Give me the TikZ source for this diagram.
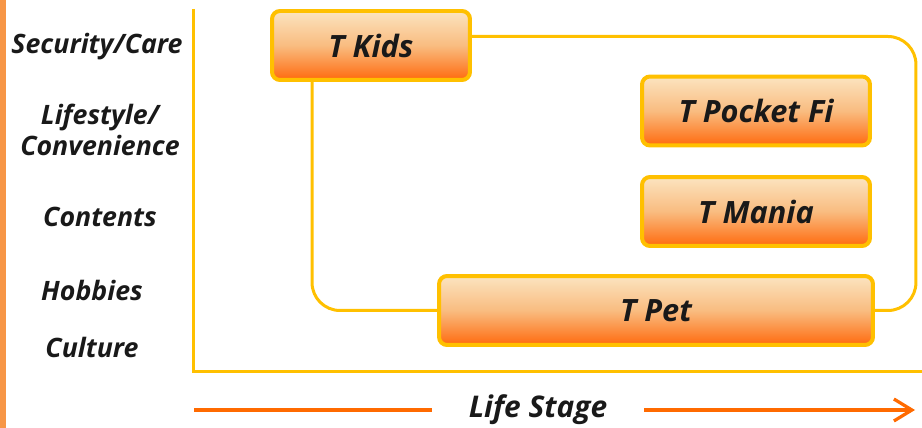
\documentclass[tikz,border=0pt]{standalone}
\usepackage{fontspec}
\setmainfont{Open Sans}
\usepackage{xcolor}
\usepackage{tikz}
\usetikzlibrary{arrows.meta, positioning}

\definecolor{axisyellow}{HTML}{FFC000}
\definecolor{stageorange}{HTML}{FF6A00}
\definecolor{barorange}{HTML}{F79646}
\definecolor{boxtop}{HTML}{FBE4C0}
\definecolor{boxmid}{HTML}{F9BC80}
\definecolor{boxbot}{HTML}{FF6A0E}

\begin{document}
\begin{tikzpicture}[
    x=0.02cm, y=-0.02cm,
    block/.style={
        rectangle,
        rounded corners=0.16cm,
        draw=axisyellow,
        line width=0.08cm,
        top color=boxtop,
        bottom color=boxbot,
        middle color=boxmid,
        align=center,
        minimum height=1.38cm,
        text=black!90,
        font=\fontsize{17.5}{20}\selectfont\bfseries\itshape
    },
    category/.style={
        align=center,
        text=black!90,
        font=\fontsize{15.2}{17.6}\selectfont\bfseries\itshape
    },
    axis/.style={axisyellow, line width=0.06cm},
    link/.style={axisyellow, line width=0.06cm, rounded corners=0.56cm},
    stage/.style={stageorange, line width=0.065cm}
]

\useasboundingbox (0,0) rectangle (922,428);

% left bar and axes
\fill[barorange] (0,0) rectangle (6,428);
\draw[axis] (193,9) -- (193,372) -- (922,372);

% categories
\node[category] (security) at (97,47) {Security/Care};
\node[category] (lifestyle) at (100,130) {Lifestyle/\\Convenience};
\node[category] (contents) at (100,217) {Contents};
\node[category] (hobbies) at (92,290) {Hobbies};
\node[category] (culture) at (92,347) {Culture};

% services
\node[block, minimum width=3.96cm] (kids) at (371,45.5) {T Kids};
\node[block, minimum width=4.56cm] (pocketfi) at (756,111) {T Pocket Fi};
\node[block, minimum width=4.56cm] (mania) at (756,211.5) {T Mania};
\node[block, minimum width=8.68cm] (pet) at (656,310.5) {T Pet};

\draw[link] ([yshift=0.18cm]kids.east) -| ([xshift=0.82cm]pet.east) -- (pet.east);
\draw[link] ([xshift=-1.18cm]kids.south) |- (pet.west);

% life stage arrow
\coordinate (stagestart) at (194,410);
\coordinate (stageend) at (915,410);
\node[category, minimum width=4.24cm, font=\fontsize{17}{20}\selectfont\bfseries\itshape] (lifestage) at (538,410) {Life Stage};
\draw[stage] (stagestart) -- (lifestage.west);
\draw[stage, -{Straight Barb[length=0.36cm, width=0.44cm]}] (lifestage.east) -- (stageend);

\end{tikzpicture}
\end{document}
